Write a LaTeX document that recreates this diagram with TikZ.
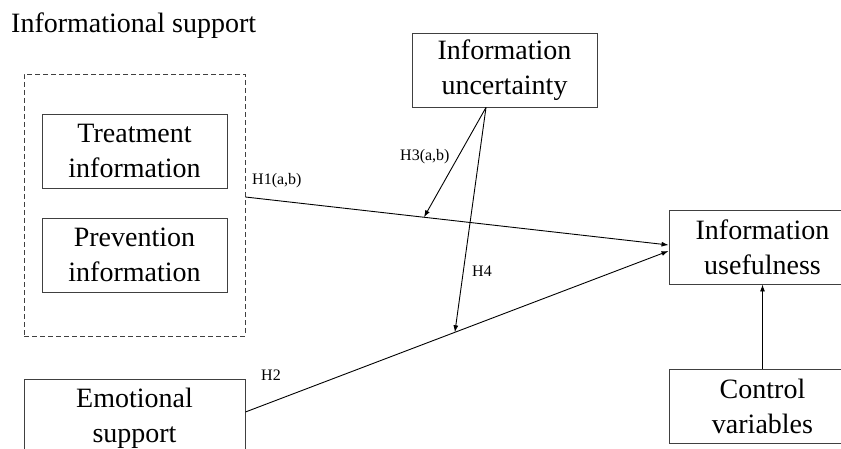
\documentclass[tikz,border=0pt]{standalone}
\usepackage{fontspec}
\setmainfont{Liberation Serif}
\usetikzlibrary{arrows.meta}
\begin{document}
\begin{tikzpicture}[x=1pt,y=1pt,
  box/.style={draw=black!75, line width=0.9pt, rectangle, align=center, inner sep=0pt,
    font=\fontsize{28}{35}\selectfont},
  grp/.style={draw=black!75, line width=0.9pt, dashed, dash pattern=on 5pt off 3pt, rectangle, inner sep=0pt},
  conn/.style={line width=0.9pt, -{Latex[length=7pt,width=5pt]}},
  lbl/.style={font=\fontsize{16}{18}\selectfont, inner sep=0pt}]
\clip (0,0) rectangle (841,448);
\node[anchor=base west, inner sep=0pt, font=\fontsize{28}{35}\selectfont] (title) at (11,415) {Informational support};
\node[grp, minimum width=221pt, minimum height=262pt] (info) at (134.5,243) {};
\node[box, minimum width=185pt, minimum height=74pt] (treat) at (134.5,297) {Treatment\\information};
\node[box, minimum width=185pt, minimum height=74pt] (prev) at (134.5,193) {Prevention\\information};
\node[box, minimum width=221pt, minimum height=78pt] (emo) at (134.5,30) {Emotional\\support};
\node[box, minimum width=185pt, minimum height=74pt] (unc) at (504.5,378) {Information\\uncertainty};
\node[box, minimum width=187pt, minimum height=74pt] (use) at (762.5,201) {Information\\usefulness};
\node[box, minimum width=187pt, minimum height=74pt] (ctrl) at (762.5,42) {Control\\variables};
\draw[conn] ([yshift=8pt]info.east) -- coordinate[pos=0.422] (m1) ([yshift=2pt]use.west);
\draw[conn] ([yshift=6pt]emo.east) -- coordinate[pos=0.495] (m2) ([yshift=-4pt]use.west);
\coordinate (us) at ([xshift=-18.5pt]unc.south);
\draw[conn] (us) -- (m1);
\draw[conn] (us) -- (m2);
\draw[conn] (ctrl.north) -- (use.south);
\node[lbl, anchor=west] (l1) at (252,267) {H1(a,b)};
\node[lbl, anchor=west] (l2) at (261,73) {H2};
\node[lbl, anchor=west] (l3) at (400,291) {H3(a,b)};
\node[lbl, anchor=west] (l4) at (472,177) {H4};
\end{tikzpicture}
\end{document}
